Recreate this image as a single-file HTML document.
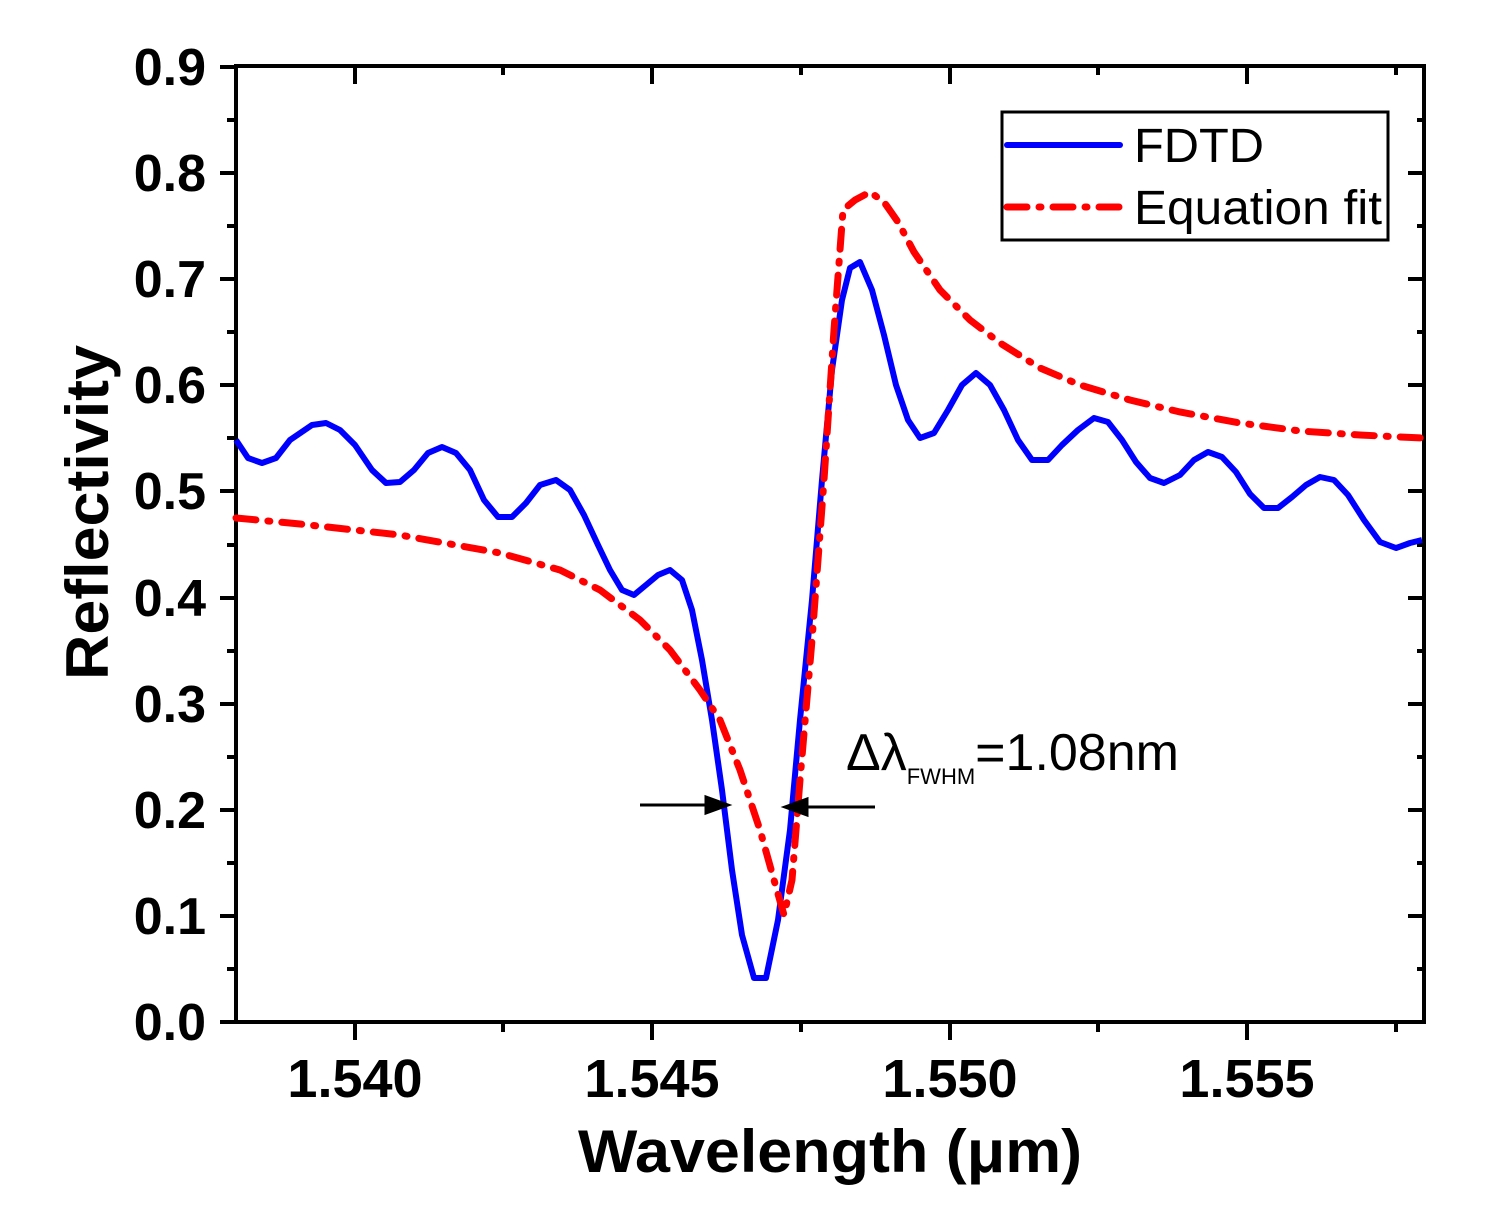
<!DOCTYPE html>
<html><head><meta charset="utf-8"><style>html,body{margin:0;padding:0;background:#fff}svg{display:block}</style></head>
<body>
<svg width="1512" height="1216" viewBox="0 0 1512 1216" xmlns="http://www.w3.org/2000/svg" font-family="Liberation Sans, Arial, sans-serif">
<rect width="1512" height="1216" fill="#fff"/>
<g stroke="#000" stroke-width="4">
<path d="M220 1022H236M220 916H236M220 810H236M220 704H236M220 598H236M220 491H236M220 385H236M220 279H236M220 173H236M220 67H236"/>
<path d="M227 969H236M227 863H236M227 757H236M227 651H236M227 545H236M227 438H236M227 332H236M227 226H236M227 120H236"/>
<path d="M1408 916H1424M1408 810H1424M1408 704H1424M1408 598H1424M1408 491H1424M1408 385H1424M1408 279H1424M1408 173H1424"/>
<path d="M1417 969H1424M1417 863H1424M1417 757H1424M1417 651H1424M1417 545H1424M1417 438H1424M1417 332H1424M1417 226H1424M1417 120H1424"/>
<path d="M355 1022V1040M652 1022V1040M950 1022V1040M1247 1022V1040"/>
<path d="M503 1022V1032M801 1022V1032M1098 1022V1032M1396 1022V1032"/>
<path d="M355 66V84M652 66V84M950 66V84M1247 66V84"/>
<path d="M503 66V75M801 66V75M1098 66V75M1396 66V75"/>
<rect x="236" y="66" width="1188" height="956" fill="none"/>
</g>
<g font-weight="bold" font-size="52" text-anchor="end" fill="#000">
<text x="206" y="1040">0.0</text><text x="206" y="934">0.1</text><text x="206" y="828">0.2</text><text x="206" y="722">0.3</text><text x="206" y="616">0.4</text><text x="206" y="509">0.5</text><text x="206" y="403">0.6</text><text x="206" y="297">0.7</text><text x="206" y="191">0.8</text><text x="206" y="85">0.9</text>
</g>
<g font-weight="bold" font-size="54" text-anchor="middle" fill="#000">
<text x="355" y="1097">1.540</text><text x="652" y="1097">1.545</text><text x="950" y="1097">1.550</text><text x="1247" y="1097">1.555</text>
</g>
<text x="578" y="1172" font-weight="bold" font-size="60" textLength="504" lengthAdjust="spacingAndGlyphs">Wavelength (μm)</text>
<text transform="translate(108,680) rotate(-90)" font-weight="bold" font-size="60" textLength="335" lengthAdjust="spacingAndGlyphs">Reflectivity</text>
<polyline fill="none" stroke="#0000ff" stroke-width="6" stroke-linejoin="round" points="236,440 248,458 262,463 276,458 290,440 312,425 326,423 340,430 355,445 372,470 386,483 400,482 414,470 428,453 442,447 456,453 470,470 484,500 498,517 512,517 526,503 540,485 556,480 570,490 584,515 598,545 610,570 622,590 634,595 646,585 658,575 670,570 682,580 692,610 702,660 712,720 722,790 732,870 742,935 754,978 766,978 778,920 790,830 800,720 812,600 822,480 832,370 842,300 850,268 860,262 872,290 884,335 896,385 908,420 920,438 934,433 948,410 962,385 976,373 990,385 1004,410 1018,440 1032,460 1048,460 1062,445 1078,430 1094,418 1108,422 1122,440 1136,462 1150,478 1164,483 1180,475 1194,460 1208,452 1222,457 1236,472 1250,494 1264,508 1278,508 1292,497 1306,485 1320,477 1334,480 1348,495 1364,520 1380,542 1396,548 1410,543 1422,540"/>
<polyline fill="none" stroke="#ff0000" stroke-width="7" stroke-linecap="round" stroke-dasharray="20 12 2 12" points="236,518 300,524 400,535 500,553 560,570 600,590 640,620 670,650 700,690 720,720 740,770 760,830 774,880 784,915 792,880 800,780 812,640 824,480 834,330 843,210 855,200 870,192 884,202 898,222 914,252 940,290 970,320 1000,343 1040,368 1080,385 1130,400 1180,412 1240,423 1300,431 1360,435 1422,438"/>
<rect x="1002" y="112" width="386" height="128" fill="#fff" stroke="#000" stroke-width="3"/>
<line x1="1007" y1="145" x2="1120" y2="145" stroke="#0000ff" stroke-width="6" stroke-linecap="round"/>
<line x1="1007" y1="207" x2="1120" y2="207" stroke="#ff0000" stroke-width="7" stroke-linecap="round" stroke-dasharray="20 12 2 12"/>
<g font-size="48" fill="#000">
<text x="1134" y="162" textLength="130" lengthAdjust="spacingAndGlyphs">FDTD</text>
<text x="1134" y="224" textLength="248" lengthAdjust="spacingAndGlyphs">Equation fit</text>
</g>
<text x="846" y="770" font-size="52" fill="#000">Δλ<tspan font-size="22" dy="14">FWHM</tspan><tspan dy="-14">=1.08nm</tspan></text>
<g stroke="#000" stroke-width="3" fill="#000">
<line x1="640" y1="805" x2="710" y2="805"/><polygon points="728,805 706,797 706,813"/>
<line x1="805" y1="807" x2="875" y2="807"/><polygon points="785,807 807,799 807,815"/>
</g>
</svg>
</body></html>
